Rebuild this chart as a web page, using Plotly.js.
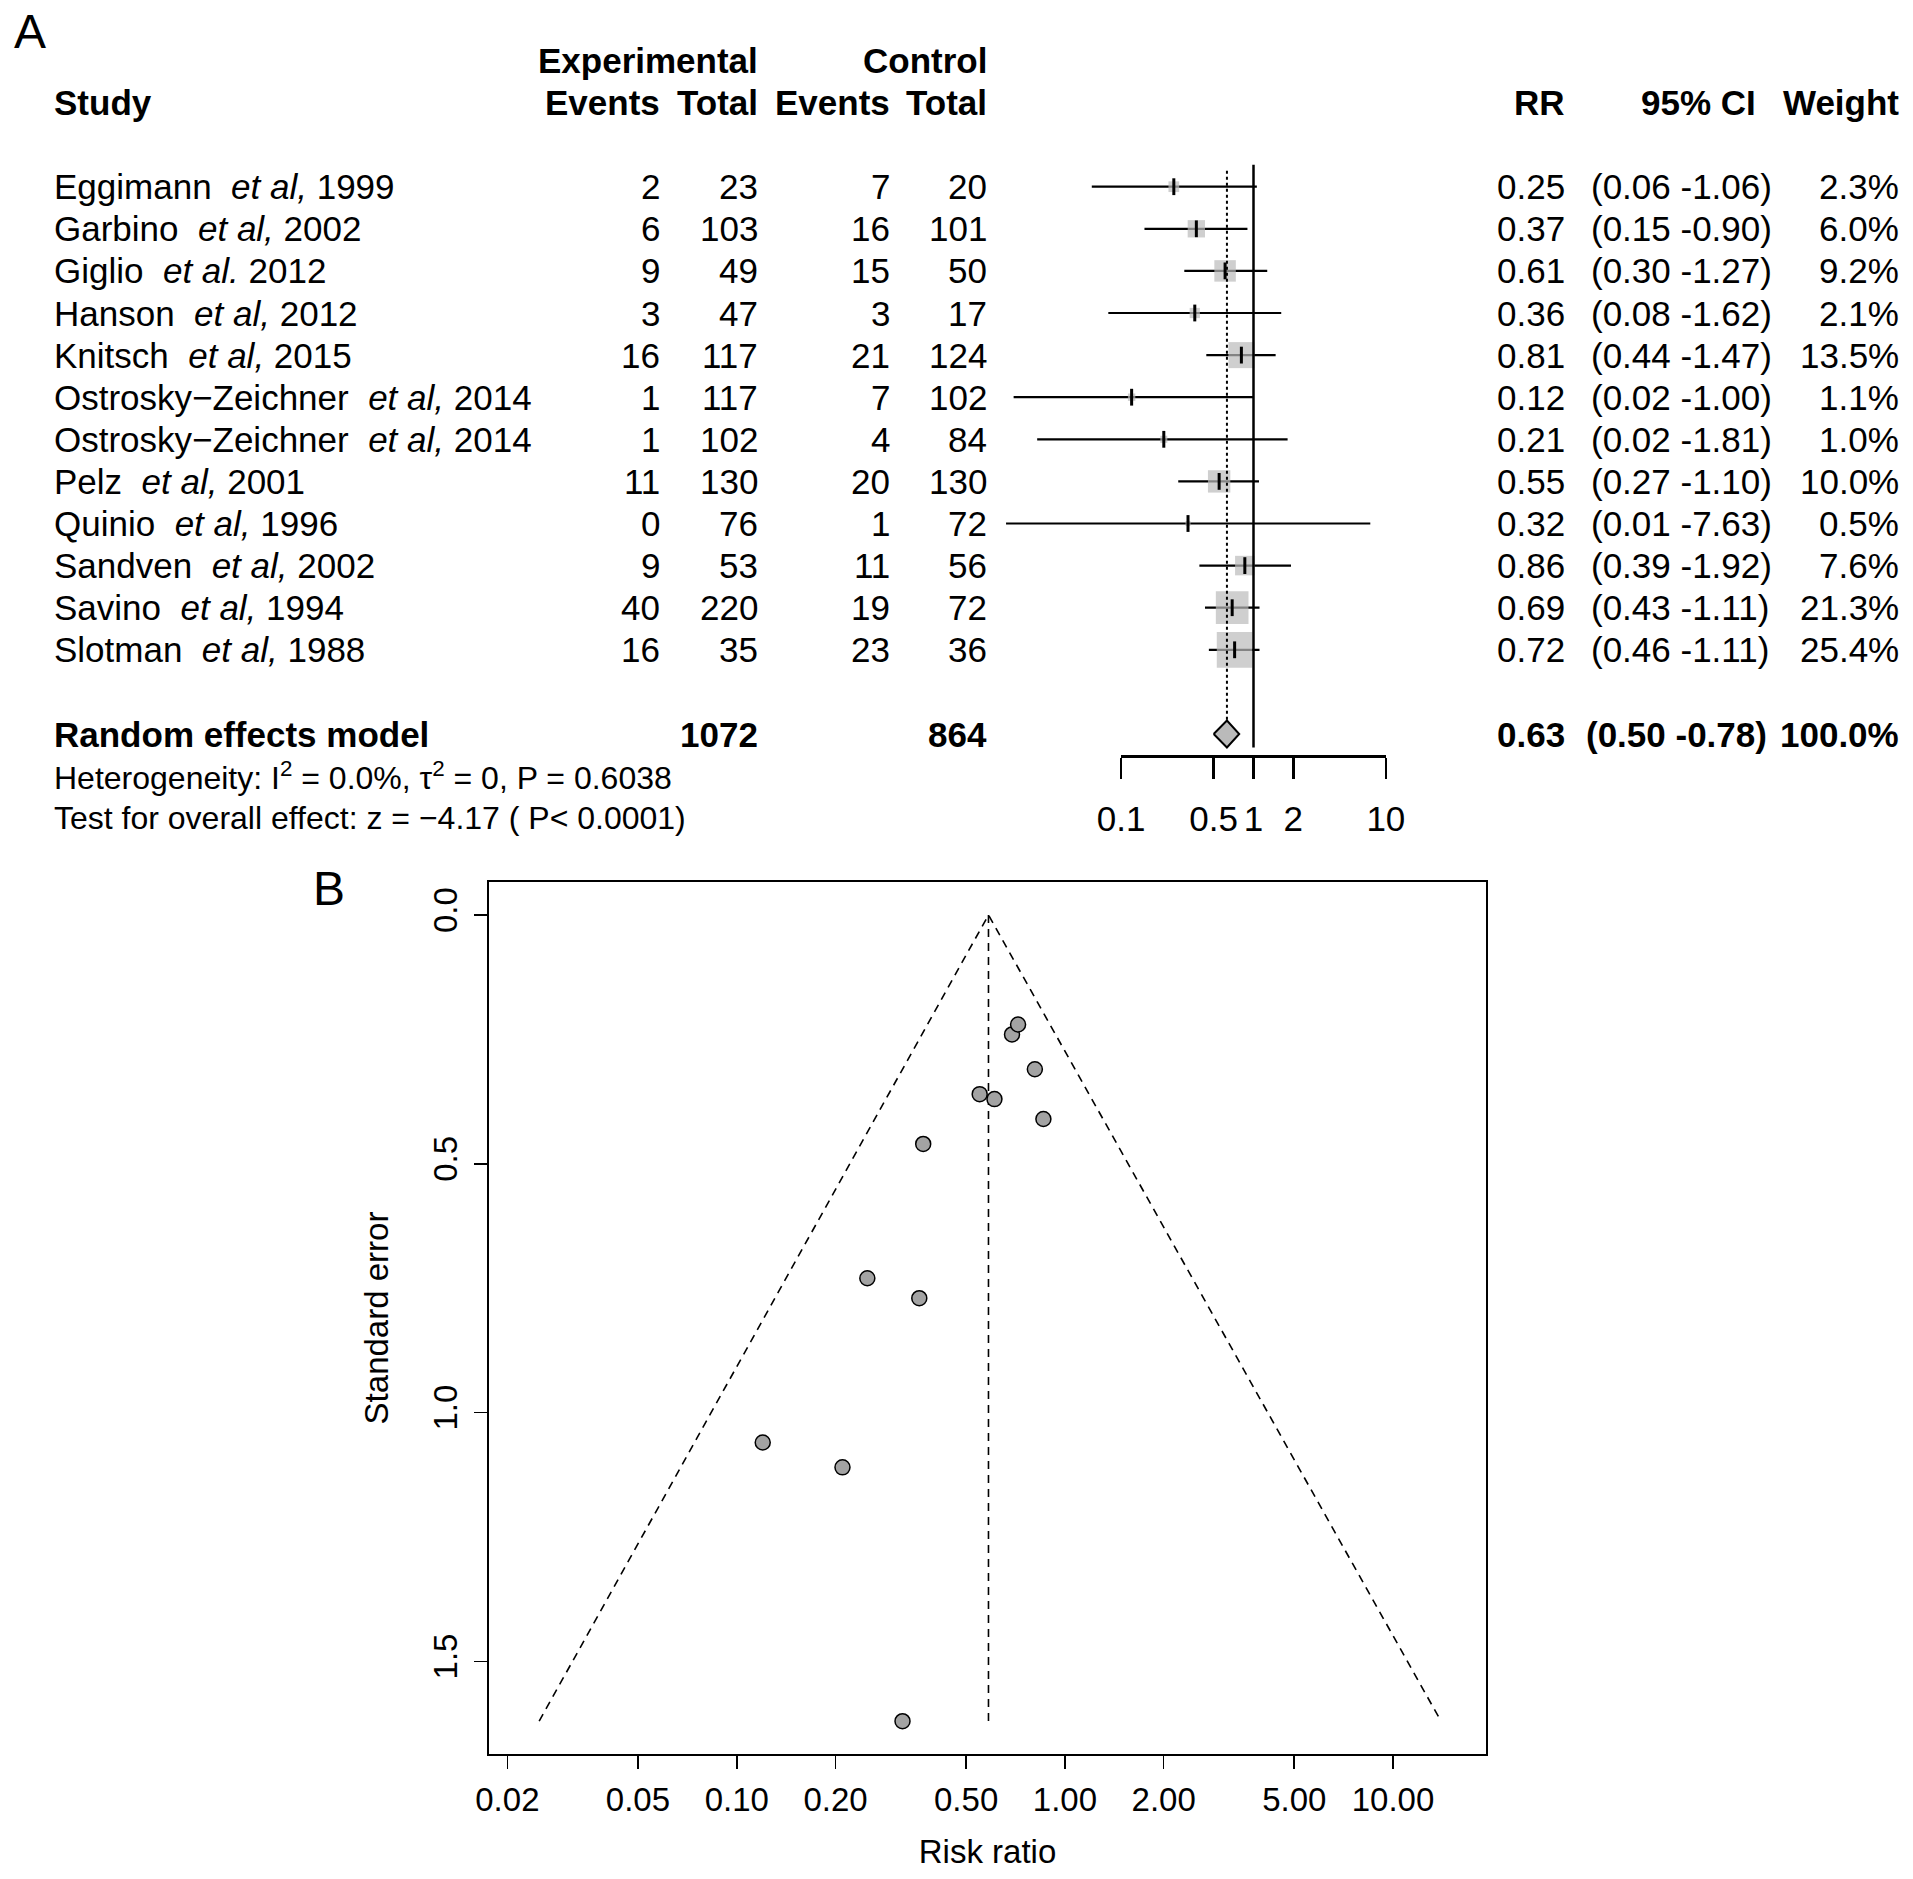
<!DOCTYPE html>
<html>
<head>
<meta charset="utf-8">
<script src="https://cdn.plot.ly/plotly-3.0.1.min.js"></script>
<style>html,body{margin:0;padding:0;background:#fff;}</style>
</head>
<body>
<div id="chart" style="width:1913px;height:1879px;"></div>
<script>
// ---------- Panel A data (forest plot) ----------
const studyName = ["Eggimann", "Garbino", "Giglio", "Hanson", "Knitsch", "Ostrosky\u2212Zeichner", "Ostrosky\u2212Zeichner", "Pelz", "Quinio", "Sandven", "Savino", "Slotman"];
const studyEtAl = ["et al,", "et al,", "et al.", "et al,", "et al,", "et al,", "et al,", "et al,", "et al,", "et al,", "et al,", "et al,"];
const studyYear = ["1999", "2002", "2012", "2012", "2015", "2014", "2014", "2001", "1996", "2002", "1994", "1988"];
const expEvents = [2, 6, 9, 3, 16, 1, 1, 11, 0, 9, 40, 16];
const expTotal = [23, 103, 49, 47, 117, 117, 102, 130, 76, 53, 220, 35];
const ctrlEvents = [7, 16, 15, 3, 21, 7, 4, 20, 1, 11, 19, 23];
const ctrlTotal = [20, 101, 50, 17, 124, 102, 84, 130, 72, 56, 72, 36];
const rr = [0.25, 0.37, 0.61, 0.36, 0.81, 0.12, 0.21, 0.55, 0.32, 0.86, 0.69, 0.72];
const ciLow = [0.06, 0.15, 0.30, 0.08, 0.44, 0.0154, 0.0232, 0.27, 0.0135, 0.39, 0.43, 0.46];
const ciHigh = [1.06, 0.90, 1.27, 1.62, 1.47, 1.00, 1.81, 1.10, 7.63, 1.92, 1.11, 1.11];
const weight = [2.3, 6.0, 9.2, 2.1, 13.5, 1.1, 1.0, 10.0, 0.5, 7.6, 21.3, 25.4];
// pooled (random effects)
const pooledRR = 0.63, pooledLow = 0.50, pooledHigh = 0.78, pooledWeight = 100.0;
const pooledExpTotal = 1072, pooledCtrlTotal = 864;
const forestTicks = [0.1, 0.5, 1, 2, 10];
const forestTickText = ["0.1", "0.5", "1", "2", "10"];

// ---------- Panel B data (funnel plot) ----------
const funnelSE = [0.73, 0.46, 0.37, 0.77, 0.31, 1.06, 1.11, 0.36, 1.62, 0.41, 0.24, 0.22];
const funnelCenter = 0.585;
const funnelLimitX = [0.025, 0.585, 14.0];
const funnelLimitY = [1.62, 0, 1.62];
const funnelXTicks = [0.02, 0.05, 0.10, 0.20, 0.50, 1.00, 2.00, 5.00, 10.00];
const funnelYTicks = [0.0, 0.5, 1.0, 1.5];

// ---------- geometry helpers (pixel layout) ----------
const W = 1913, H = 1879;
const px = v => v / W;             // paper x from pixel
const py = v => 1 - v / H;         // paper y from pixel
const FONT = "Liberation Sans, Arial, Helvetica, sans-serif";
const fs = 35;

const n = rr.length;
const rows = rr.map((_, i) => i);
const pooledRow = 13;

// ---------- traces ----------
const traces = [];
// CI lines
const ciX = [], ciY = [];
for (let i = 0; i < n; i++) { ciX.push(ciLow[i], ciHigh[i], null); ciY.push(rows[i], rows[i], null); }
traces.push({type: "scatter", mode: "lines", x: ciX, y: ciY, xaxis: "x", yaxis: "y",
  line: {color: "#000", width: 2.2}, hoverinfo: "skip", showlegend: false});
// weight squares
traces.push({type: "scatter", mode: "markers", x: rr, y: rows, xaxis: "x", yaxis: "y",
  marker: {symbol: "square", color: "#bababa", size: weight.map(w => 7.08 * Math.sqrt(w)), line: {width: 0}},
  hoverinfo: "skip", showlegend: false, cliponaxis: false});
// point estimate tick
traces.push({type: "scatter", mode: "markers", x: rr, y: rows, xaxis: "x", yaxis: "y",
  marker: {symbol: "line-ns", size: 12, line: {color: "#000", width: 3}},
  hoverinfo: "skip", showlegend: false, cliponaxis: false});
// pooled diamond
const dh = 0.32;
traces.push({type: "scatter", mode: "lines", fill: "toself", fillcolor: "#bababa",
  x: [pooledLow, pooledRR, pooledHigh, pooledRR, pooledLow],
  y: [pooledRow, pooledRow - dh, pooledRow, pooledRow + dh, pooledRow],
  xaxis: "x", yaxis: "y", line: {color: "#000", width: 2}, hoverinfo: "skip", showlegend: false});
// line of no effect, drawn on the visible forest axis x3
traces.push({type: "scatter", mode: "lines", x: [1, 1], y: [-0.52, 13.32], xaxis: "x3", yaxis: "y",
  line: {color: "#000", width: 2.5}, hoverinfo: "skip", showlegend: false});

// Funnel
traces.push({type: "scatter", mode: "lines", x: funnelLimitX, y: funnelLimitY, xaxis: "x2", yaxis: "y2",
  line: {color: "#000", width: 1.6, dash: "8px,6px"}, hoverinfo: "skip", showlegend: false});
traces.push({type: "scatter", mode: "lines", x: [funnelCenter, funnelCenter], y: [0, funnelLimitY[0]], xaxis: "x2", yaxis: "y2",
  line: {color: "#000", width: 1.6, dash: "8px,6px"}, hoverinfo: "skip", showlegend: false});
traces.push({type: "scatter", mode: "markers", x: rr, y: funnelSE, xaxis: "x2", yaxis: "y2",
  marker: {symbol: "circle", size: 15, color: "#a3a3a3", line: {color: "#000", width: 1.5}},
  hoverinfo: "skip", showlegend: false});

// ---------- annotations ----------
const ann = [];
function txt(t, xpix, row, anchor, opts) {
  opts = opts || {};
  ann.push({text: t, x: px(xpix), xref: "paper", y: row, yref: "y", xanchor: anchor, yanchor: "middle",
    showarrow: false, font: {family: FONT, size: opts.size || fs, color: "#000"}});
}
const b = s => "<b>" + s + "</b>";
// panel letters
ann.push({text: "A", x: px(12), y: py(31), xref: "paper", yref: "paper", xanchor: "left", yanchor: "middle",
  showarrow: false, font: {family: FONT, size: 48, color: "#000"}});
ann.push({text: "B", x: px(311), y: py(888), xref: "paper", yref: "paper", xanchor: "left", yanchor: "middle",
  showarrow: false, font: {family: FONT, size: 48, color: "#000"}});
// headers
txt(b("Experimental"), 760, -3, "right");
txt(b("Control"), 989, -3, "right");
txt(b("Study"), 52, -2, "left");
txt(b("Events"), 662, -2, "right");
txt(b("Total"), 760, -2, "right");
txt(b("Events"), 892, -2, "right");
txt(b("Total"), 989, -2, "right");
txt(b("RR"), 1567, -2, "right");
txt(b("95% CI"), 1758, -2, "right");
txt(b("Weight"), 1901, -2, "right");
// rows
for (let i = 0; i < n; i++) {
  txt(studyName[i] + "\u00a0 <i>" + studyEtAl[i] + "</i> " + studyYear[i], 52, rows[i], "left");
  txt(String(expEvents[i]), 662, rows[i], "right");
  txt(String(expTotal[i]), 760, rows[i], "right");
  txt(String(ctrlEvents[i]), 892, rows[i], "right");
  txt(String(ctrlTotal[i]), 989, rows[i], "right");
  txt(rr[i].toFixed(2), 1567, rows[i], "right");
  txt("(" + ciLow[i].toFixed(2) + " -" + ciHigh[i].toFixed(2) + ")", 1589, rows[i], "left");
  txt(weight[i].toFixed(1) + "%", 1901, rows[i], "right");
}
// pooled row
txt(b("Random effects model"), 52, pooledRow, "left");
txt(b(String(pooledExpTotal)), 760, pooledRow, "right");
txt(b(String(pooledCtrlTotal)), 989, pooledRow, "right");
txt(b(pooledRR.toFixed(2)), 1567, pooledRow, "right");
txt(b("(" + pooledLow.toFixed(2) + " -" + pooledHigh.toFixed(2) + ")"), 1584, pooledRow, "left");
txt(b(pooledWeight.toFixed(1) + "%"), 1901, pooledRow, "right");
txt("Heterogeneity: I<sup>2</sup> = 0.0%, \u03c4<sup>2</sup> = 0, P = 0.6038", 52, 14, "left", {size: 32});
txt("Test for overall effect: z = \u22124.17 ( P< 0.0001)", 52, 15, "left", {size: 32});

// ---------- layout ----------
const rowTop = -186.7 / 42.1;            // row at pixel 0
const domBottomPx = 870;
const rowBottom = (domBottomPx - 186.7) / 42.1;
const decade = 132.35, xOnePx = 1253.5;
const layout = {
  width: W, height: H, autosize: false,
  margin: {l: 0, r: 0, t: 0, b: 0, pad: 0},
  paper_bgcolor: "#fff", plot_bgcolor: "rgba(0,0,0,0)",
  font: {family: FONT, color: "#000"},
  showlegend: false,
  // forest data axis (invisible)
  xaxis: {type: "log", range: [-2, 1], domain: [px(xOnePx - 2 * decade), px(xOnePx + decade)],
    visible: false, fixedrange: true},
  yaxis: {range: [rowBottom, rowTop], domain: [py(domBottomPx), 1], visible: false, fixedrange: true},
  // forest visible axis 0.1 .. 10
  xaxis3: {type: "log", range: [-1, 1], domain: [px(xOnePx - decade), px(xOnePx + decade)],
    anchor: "free", position: py(756.4), side: "bottom",
    showline: true, linecolor: "#000", linewidth: 2.5, showgrid: false, zeroline: false,
    ticks: "outside", ticklen: 21, tickwidth: 2.5, tickcolor: "#000",
    tickvals: forestTicks, ticktext: forestTickText, ticklabelstandoff: 10,
    tickfont: {family: FONT, size: 35, color: "#000"}, fixedrange: true},
  // funnel
  xaxis2: {type: "log", range: [Math.log10(0.01758), Math.log10(19.2)], domain: [px(489), px(1486)],
    anchor: "y2", showline: true, mirror: true, linecolor: "#000", linewidth: 1.6,
    showgrid: false, zeroline: false, ticks: "outside", ticklen: 13, tickwidth: 1.6, tickcolor: "#000",
    tickvals: funnelXTicks, ticktext: funnelXTicks.map(v => v.toFixed(2)), ticklabelstandoff: 3,
    tickfont: {family: FONT, size: 33, color: "#000"},
    title: {text: "Risk ratio", font: {family: FONT, size: 33, color: "#000"}, standoff: 22}, fixedrange: true},
  yaxis2: {range: [1.686, -0.0663], domain: [py(1754), py(882)], anchor: "x2",
    showline: true, mirror: true, linecolor: "#000", linewidth: 1.6,
    showgrid: false, zeroline: false, ticks: "outside", ticklen: 13, tickwidth: 1.6, tickcolor: "#000",
    tickvals: funnelYTicks, ticktext: funnelYTicks.map(v => v.toFixed(1)), tickangle: -90, ticklabelstandoff: 4,
    tickfont: {family: FONT, size: 33, color: "#000"},
    title: {text: "Standard error", font: {family: FONT, size: 33, color: "#000"}, standoff: 28}, fixedrange: true},
  shapes: [
    // pooled estimate dotted reference
    {type: "line", xref: "x", yref: "y", x0: pooledRR, x1: pooledRR, y0: -0.38, y1: 12.66,
      line: {color: "#000", width: 2, dash: "dot"}}
  ],
  annotations: ann
};

Plotly.newPlot("chart", traces, layout, {staticPlot: true, displayModeBar: false});
</script>
</body>
</html>
